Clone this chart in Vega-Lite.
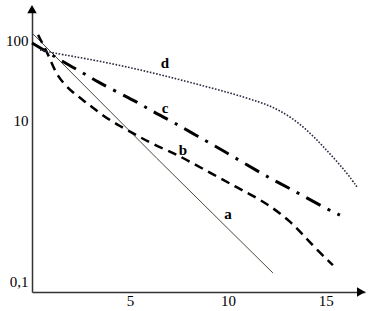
{
  "$schema": "https://vega.github.io/schema/vega-lite/v6.json",
  "width": 333,
  "height": 284,
  "autosize": {"type": "none"},
  "padding": {"left": 32, "top": 8, "right": 13, "bottom": 19},
  "background": "white",
  "config": {"view": {"stroke": null}, "font": "Liberation Serif"},
  "datasets": {
    "curves": [
      {"s": "a", "x": 0, "y": 125.9},
      {"s": "a", "x": 6.38, "y": 3.4},
      {"s": "a", "x": 12.3, "y": 0.126},
      {"s": "b", "x": 0.31, "y": 118.9},
      {"s": "b", "x": 0.92, "y": 61.3},
      {"s": "b", "x": 1.28, "y": 35.5},
      {"s": "b", "x": 2.09, "y": 22.4},
      {"s": "b", "x": 2.81, "y": 16.8},
      {"s": "b", "x": 3.62, "y": 11.6},
      {"s": "b", "x": 4.49, "y": 8.6},
      {"s": "b", "x": 5.36, "y": 6.6},
      {"s": "b", "x": 6.18, "y": 5.1},
      {"s": "b", "x": 7.2, "y": 4.0},
      {"s": "b", "x": 8.07, "y": 3.1},
      {"s": "b", "x": 9.24, "y": 2.15},
      {"s": "b", "x": 10.46, "y": 1.48},
      {"s": "b", "x": 11.49, "y": 1.09},
      {"s": "b", "x": 12.3, "y": 0.82},
      {"s": "b", "x": 13.17, "y": 0.56},
      {"s": "b", "x": 13.83, "y": 0.38},
      {"s": "b", "x": 14.55, "y": 0.244},
      {"s": "b", "x": 15.36, "y": 0.158},
      {"s": "c", "x": 0, "y": 94.4},
      {"s": "c", "x": 0.77, "y": 72.9},
      {"s": "c", "x": 1.43, "y": 57.9},
      {"s": "c", "x": 2.6, "y": 39.8},
      {"s": "c", "x": 3.37, "y": 30.7},
      {"s": "c", "x": 4.34, "y": 23.0},
      {"s": "c", "x": 5.36, "y": 17.3},
      {"s": "c", "x": 6.18, "y": 13.0},
      {"s": "c", "x": 7.2, "y": 9.72},
      {"s": "c", "x": 8.42, "y": 6.5},
      {"s": "c", "x": 9.6, "y": 4.5},
      {"s": "c", "x": 12.0, "y": 2.0},
      {"s": "c", "x": 13.02, "y": 1.5},
      {"s": "c", "x": 15.06, "y": 0.79},
      {"s": "c", "x": 15.72, "y": 0.668},
      {"s": "d", "x": 0.41, "y": 77.2},
      {"s": "d", "x": 0.77, "y": 72.9},
      {"s": "d", "x": 3.47, "y": 56.2},
      {"s": "d", "x": 6.02, "y": 41.0},
      {"s": "d", "x": 8.58, "y": 28.2},
      {"s": "d", "x": 10.11, "y": 22.4},
      {"s": "d", "x": 11.64, "y": 17.3},
      {"s": "d", "x": 12.66, "y": 13.7},
      {"s": "d", "x": 13.78, "y": 8.91},
      {"s": "d", "x": 14.7, "y": 5.31},
      {"s": "d", "x": 15.36, "y": 3.55},
      {"s": "d", "x": 16.08, "y": 2.24},
      {"s": "d", "x": 16.59, "y": 1.5}
    ],
    "labels": [
      {"t": "a", "x": 10.0, "y": 0.688},
      {"t": "b", "x": 7.71, "y": 4.34},
      {"t": "c", "x": 6.79, "y": 14.5},
      {"t": "d", "x": 6.79, "y": 53.1}
    ],
    "arrows": [
      {"x": 0, "y": 250, "shape": "triangle-up"},
      {"x": 16.8, "y": 0.0729, "shape": "triangle-right"}
    ]
  },
  "layer": [
    {
      "data": {"name": "curves"},
      "transform": [{"filter": "datum.s == 'a'"}],
      "mark": {"type": "line", "color": "#4a4a3c", "strokeWidth": 1, "clip": false},
      "encoding": {
        "x": {"field": "x", "type": "quantitative", "scale": {"domain": [0, 17], "nice": false, "zero": false},
          "axis": {"values": [5, 10, 15], "title": null, "grid": false, "ticks": false, "labelFontSize": 15, "labelPadding": 1, "labelColor": "black", "domainColor": "#333", "domainWidth": 1.5, "labelFont": "Liberation Serif"}},
        "y": {"field": "y", "type": "quantitative", "scale": {"type": "log", "domain": [0.0729, 258], "nice": false},
          "axis": {"values": [0.1, 10, 100], "labelExpr": "datum.value < 1 ? '0,1' : format(datum.value, 'd')", "title": null, "grid": false, "ticks": false, "labelFontSize": 15, "labelPadding": 4, "labelColor": "black", "domainColor": "#333", "domainWidth": 1.5, "labelFont": "Liberation Serif"}}
      }
    },
    {
      "data": {"name": "curves"},
      "transform": [{"filter": "datum.s == 'b'"}],
      "mark": {"type": "line", "color": "black", "strokeWidth": 2.5, "strokeDash": [9, 6], "interpolate": "basis", "clip": false},
      "encoding": {"x": {"field": "x", "type": "quantitative"}, "y": {"field": "y", "type": "quantitative"}}
    },
    {
      "data": {"name": "curves"},
      "transform": [{"filter": "datum.s == 'c'"}],
      "mark": {"type": "line", "color": "black", "strokeWidth": 3, "strokeDash": [16, 8, 3, 8], "interpolate": "basis", "clip": false},
      "encoding": {"x": {"field": "x", "type": "quantitative"}, "y": {"field": "y", "type": "quantitative"}}
    },
    {
      "data": {"name": "curves"},
      "transform": [{"filter": "datum.s == 'd'"}],
      "mark": {"type": "line", "color": "#2a2a40", "strokeWidth": 1.6, "strokeDash": [1.6, 1.6], "interpolate": "basis", "clip": false},
      "encoding": {"x": {"field": "x", "type": "quantitative"}, "y": {"field": "y", "type": "quantitative"}}
    },
    {
      "data": {"name": "labels"},
      "mark": {"type": "text", "font": "Liberation Serif", "fontWeight": "bold", "fontSize": 15, "color": "black"},
      "encoding": {"x": {"field": "x", "type": "quantitative"}, "y": {"field": "y", "type": "quantitative"}, "text": {"field": "t"}}
    },
    {
      "data": {"name": "arrows"},
      "mark": {"type": "point", "filled": true, "color": "black", "size": 90, "opacity": 1, "clip": false},
      "encoding": {"x": {"field": "x", "type": "quantitative"}, "y": {"field": "y", "type": "quantitative"}, "shape": {"field": "shape", "type": "nominal", "scale": null}}
    }
  ]
}
